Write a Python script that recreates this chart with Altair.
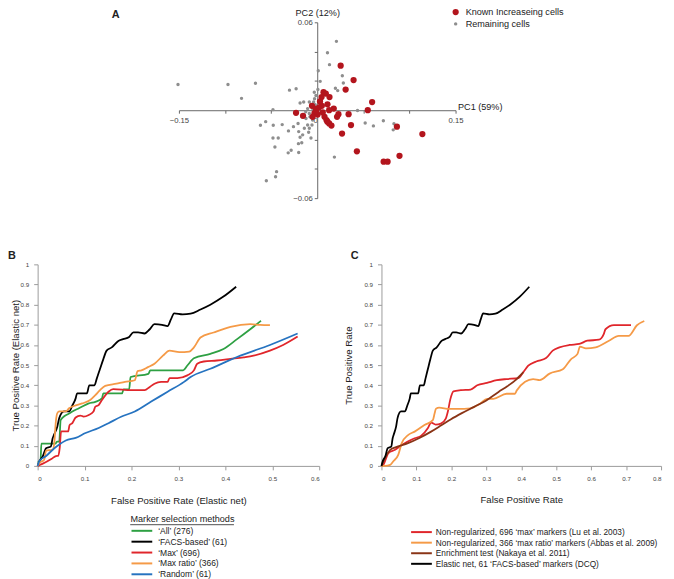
import altair as alt
import pandas as pd

W, H = 666, 571
FONT = "Liberation Sans"

# ---------------- Panel A: PCA scatter ----------------
A_GROUPS = ["Known Increaseing cells", "Remaining cells"]
A_COLORS = ["#b3151d", "#8e8e8e"]

known_pc1 = [0.0254, 0.0394, 0.0308, 0.0595, 0.0548, 0.0068, 0.0093, 0.0047, 0.0133, 0.0111,
             0.0179, 0.005, -0.0057, -0.0014, 0.002, -0.003, 0.0004, -0.005, -0.023, -0.0154,
             0.023, 0.0215, 0.034, 0.0129, 0.0079, 0.010, 0.011, 0.0129, 0.0154, 0.0366,
             0.0269, 0.043, 0.072, 0.0763, 0.0892, 0.0864, 0.114, 0.003, -0.001, 0.006]
known_pc2 = [0.0304, 0.0206, 0.0141, 0.0056, 0.000, 0.0123, 0.0114, 0.0090, 0.0090, 0.0040,
             0.0011, 0.003, 0.003, 0.001, 0.002, -0.002, -0.003, -0.0045, -0.0018, -0.0038,
             -0.0027, -0.0045, -0.0027, 0.000, -0.0045, -0.0067, -0.0078, -0.009, -0.0105, -0.0101,
             -0.0159, -0.028, -0.0351, -0.0351, -0.0311, -0.0112, -0.0163, 0.006, -0.001, -0.0015]

rest_pc1 = [0.0208, 0.0111, 0.0133, 0.0272, 0.0283, 0.0011, 0.0032, -0.151, -0.0968, -0.067,
            -0.0821, -0.0301, -0.0229, 0.0197, 0.0222, -0.048, -0.0186, -0.0147, -0.0086, -0.0068,
            -0.0104, -0.0125, 0.0437, 0.052, 0.0609, 0.0717, 0.0832, 0.0824, 0.0186, -0.0616,
            -0.0559, -0.0477, -0.038, -0.0423, -0.048, -0.0459, -0.0312, -0.0258, -0.0208, -0.0168,
            -0.0201, -0.0158, -0.0186, -0.0204, -0.0168, -0.0315, -0.0283, -0.0201, -0.0104, -0.0093,
            -0.0068, -0.0086, -0.0441, -0.0452, -0.0552, -0.0057, -0.005, -0.0029, -0.0014, -0.0032,
            0.0007, -0.005, -0.0086, -0.0079, -0.0122, -0.014, -0.0039, -0.0022]
rest_pc2 = [0.0470, 0.0392, 0.0311, 0.0235, 0.0186, 0.0269, 0.0197, 0.0175, 0.0175, 0.0184,
            0.0081, 0.0137, 0.0146, 0.0150, 0.0134, 0.0004, 0.0049, 0.0056, 0.0056, 0.0034,
            0.0011, -0.0011, -0.0002, -0.0087, -0.0107, -0.0072, -0.0092, -0.0134, -0.0320, -0.0103,
            -0.0078, -0.0103, -0.0098, -0.019, -0.019, -0.0251, -0.0141, -0.0112, -0.009, -0.0045,
            -0.0146, -0.0168, -0.0184, -0.0228, -0.0222, -0.0291, -0.0273, -0.0289, -0.0101, -0.0150,
            -0.0190, -0.0123, -0.0419, -0.0454, -0.0481, -0.0101, -0.0067, 0.0078, 0.0101, 0.0123,
            0.0141, 0.0011, -0.0022, -0.0045, -0.0056, -0.0123, 0.0056, 0.0038]

A_XTICKS = [-0.15, -0.1, -0.05, 0, 0.05, 0.1, 0.15]
A_YTICKS = [-0.06, -0.04, -0.02, 0, 0.02, 0.04, 0.06]

# ---------------- Panel B: ROC curves (elastic net) ----------------
B_NAMES = ["\u2018All\u2019 (276)", "\u2018FACS-based\u2019 (61)", "\u2018Max\u2019 (696)",
           "\u2018Max ratio\u2019 (366)", "\u2018Random\u2019 (61)"]
B_COLORS = ["#2ea043", "#000000", "#e0262b", "#f59a47", "#2673c0"]

facs_fpr = [0, 0.004, 0.011, 0.018, 0.028, 0.032, 0.035, 0.042, 0.046, 0.056,
            0.067, 0.074, 0.081, 0.084, 0.105, 0.110, 0.121, 0.126, 0.133, 0.140,
            0.147, 0.158, 0.172, 0.182, 0.195, 0.204, 0.214, 0.228, 0.239, 0.249,
            0.265, 0.277, 0.284, 0.291, 0.309, 0.326, 0.347, 0.368, 0.396, 0.423]
facs_tpr = [0, 0.025, 0.048, 0.088, 0.096, 0.137, 0.155, 0.196, 0.237, 0.27,
            0.27, 0.30, 0.335, 0.36, 0.36, 0.40, 0.40, 0.433, 0.482, 0.53,
            0.572, 0.588, 0.62, 0.629, 0.64, 0.662, 0.662, 0.657, 0.678, 0.703,
            0.70, 0.694, 0.727, 0.757, 0.752, 0.755, 0.776, 0.80, 0.84, 0.889]

all_fpr = [0, 0.006, 0.008, 0.038, 0.041, 0.046, 0.049, 0.056, 0.067, 0.074,
           0.088, 0.109, 0.123, 0.137, 0.140, 0.180, 0.183, 0.195, 0.198, 0.236,
           0.240, 0.310, 0.319, 0.333, 0.368, 0.396, 0.425, 0.453, 0.476]
all_tpr = [0.02, 0.02, 0.11, 0.11, 0.12, 0.12, 0.227, 0.245, 0.26, 0.27,
           0.286, 0.31, 0.318, 0.335, 0.36, 0.36, 0.38, 0.38, 0.441, 0.457,
           0.474, 0.474, 0.498, 0.534, 0.556, 0.58, 0.629, 0.678, 0.72]

maxratio_fpr = [0, 0.004, 0.014, 0.018, 0.032, 0.035, 0.039, 0.042, 0.046, 0.060,
                0.067, 0.077, 0.095, 0.112, 0.123, 0.133, 0.144, 0.168, 0.186, 0.207,
                0.213, 0.221, 0.235, 0.249, 0.267, 0.281, 0.302, 0.323, 0.333, 0.347,
                0.375, 0.411, 0.453, 0.474, 0.495]
maxratio_tpr = [0, 0.015, 0.031, 0.076, 0.08, 0.104, 0.225, 0.262, 0.27, 0.27,
                0.286, 0.297, 0.31, 0.327, 0.351, 0.376, 0.397, 0.408, 0.417, 0.425,
                0.47, 0.474, 0.49, 0.507, 0.547, 0.572, 0.564, 0.567, 0.588, 0.637,
                0.662, 0.69, 0.703, 0.70, 0.698]

max_fpr = [0, 0.01, 0.03, 0.039, 0.044, 0.047, 0.050, 0.065, 0.068, 0.074,
           0.081, 0.091, 0.098, 0.109, 0.119, 0.123, 0.130, 0.137, 0.151, 0.161,
           0.200, 0.228, 0.239, 0.249, 0.263, 0.277, 0.281, 0.298, 0.319, 0.333,
           0.340, 0.354, 0.382, 0.411, 0.439, 0.46, 0.495, 0.523, 0.554]
max_tpr = [0, 0.01, 0.035, 0.049, 0.05, 0.088, 0.171, 0.171, 0.202, 0.212,
           0.24, 0.25, 0.245, 0.253, 0.27, 0.294, 0.302, 0.327, 0.368, 0.381,
           0.376, 0.376, 0.392, 0.408, 0.417, 0.417, 0.436, 0.436, 0.449, 0.474,
           0.507, 0.518, 0.523, 0.531, 0.539, 0.547, 0.572, 0.60, 0.642]

random_fpr = [0, 0.004, 0.018, 0.032, 0.046, 0.060, 0.081, 0.102, 0.130, 0.151,
              0.179, 0.207, 0.242, 0.277, 0.312, 0.326, 0.368, 0.432, 0.495, 0.554]
random_tpr = [0, 0.025, 0.049, 0.08, 0.106, 0.126, 0.139, 0.163, 0.188, 0.212,
              0.245, 0.27, 0.319, 0.368, 0.417, 0.441, 0.482, 0.547, 0.60, 0.657]

# ---------------- Panel C: ROC curves (methods) ----------------
C_NAMES = ["Non-regularized, 696 \u2018max\u2019 markers (Lu et al. 2003)",
           "Non-regularized, 366 \u2018max ratio\u2019 markers (Abbas et al. 2009)",
           "Enrichment test (Nakaya et al. 2011)",
           "Elastic net, 61 \u2018FACS-based\u2019 markers (DCQ)"]
C_COLORS = ["#e0262b", "#f59a47", "#8a3416", "#000000"]

lu_fpr = [0, 0.005, 0.02, 0.039, 0.058, 0.095, 0.114, 0.133, 0.142, 0.155,
          0.17, 0.184, 0.19, 0.197, 0.206, 0.227, 0.255, 0.274, 0.302, 0.33,
          0.358, 0.392, 0.406, 0.42, 0.443, 0.471, 0.49, 0.509, 0.538, 0.566,
          0.589, 0.622, 0.636, 0.641, 0.665, 0.714]
lu_tpr = [0, 0.005, 0.064, 0.08, 0.104, 0.137, 0.15, 0.188, 0.215, 0.205,
          0.21, 0.235, 0.27, 0.33, 0.37, 0.376, 0.379, 0.40, 0.412, 0.425,
          0.431, 0.436, 0.465, 0.497, 0.518, 0.535, 0.572, 0.588, 0.60, 0.605,
          0.621, 0.626, 0.654, 0.678, 0.698, 0.698]

abbas_fpr = [0, 0.01, 0.025, 0.034, 0.048, 0.058, 0.076, 0.095, 0.123, 0.147,
             0.152, 0.156, 0.165, 0.194, 0.218, 0.255, 0.283, 0.302, 0.32, 0.358,
             0.382, 0.387, 0.411, 0.434, 0.453, 0.481, 0.519, 0.542, 0.561, 0.568,
             0.585, 0.613, 0.651, 0.679, 0.707, 0.731, 0.752]
abbas_tpr = [0, 0, 0.005, 0.023, 0.055, 0.113, 0.153, 0.17, 0.203, 0.227,
             0.26, 0.284, 0.289, 0.283, 0.283, 0.286, 0.31, 0.333, 0.333, 0.358,
             0.358, 0.374, 0.417, 0.431, 0.426, 0.458, 0.48, 0.529, 0.556, 0.592,
             0.583, 0.588, 0.621, 0.645, 0.645, 0.698, 0.719]

nakaya_fpr = [0, 0.015, 0.025, 0.04, 0.076, 0.11, 0.142, 0.17, 0.199, 0.23,
              0.265, 0.3, 0.335, 0.36, 0.387, 0.406]
nakaya_tpr = [0, 0.055, 0.08, 0.092, 0.113, 0.14, 0.17, 0.2, 0.232, 0.262,
              0.293, 0.325, 0.367, 0.395, 0.431, 0.465]

ROC_YTICKS = [0, 0.1, 0.2, 0.3, 0.4, 0.5, 0.6, 0.7, 0.8, 0.9, 1]
B_XTICKS = [0, 0.1, 0.2, 0.3, 0.4, 0.5, 0.6]
C_XTICKS = [0, 0.1, 0.2, 0.3, 0.4, 0.5, 0.6, 0.7, 0.8]


def series(name, xs, ys):
    assert len(xs) == len(ys), name
    return pd.DataFrame({"method": [name] * len(xs), "fpr": xs, "tpr": ys})


df_a = pd.DataFrame({
    "pc1": rest_pc1 + known_pc1,
    "pc2": rest_pc2 + known_pc2,
    "group": [A_GROUPS[1]] * len(rest_pc1) + [A_GROUPS[0]] * len(known_pc1),
})
assert len(rest_pc1) == len(rest_pc2) and len(known_pc1) == len(known_pc2)

df_b = pd.concat([
    series(B_NAMES[0], all_fpr, all_tpr),
    series(B_NAMES[1], facs_fpr, facs_tpr),
    series(B_NAMES[2], max_fpr, max_tpr),
    series(B_NAMES[3], maxratio_fpr, maxratio_tpr),
    series(B_NAMES[4], random_fpr, random_tpr),
], ignore_index=True)

df_c = pd.concat([
    series(C_NAMES[0], lu_fpr, lu_tpr),
    series(C_NAMES[1], abbas_fpr, abbas_tpr),
    series(C_NAMES[2], nakaya_fpr, nakaya_tpr),
    series(C_NAMES[3], facs_fpr, facs_tpr),
], ignore_index=True)


def axis(**kw):
    base = dict(grid=False, labelFont=FONT, titleFont=FONT, titleFontWeight="normal",
                labelColor="#444", titleColor="#222", domainColor="#9a9a9a", tickColor="#9a9a9a")
    base.update(kw)
    return alt.Axis(**base)


# ---- Panel A chart ----
a_legend = alt.Legend(orient="none", legendX=448.5, legendY=-4, title=None, padding=0,
                      labelFont=FONT, labelFontSize=9.2, labelColor="#222",
                      labelOffset=5.5, rowPadding=2)
a_chart = alt.Chart(df_a).mark_circle(opacity=1).encode(
    x=alt.X("pc1:Q",
            scale=alt.Scale(domain=[-0.15, 0.15], range=[173, 453], nice=False, zero=False),
            axis=axis(orient="bottom", offset=-(H - 100), values=A_XTICKS, format=".2~f",
                      labelExpr="abs(datum.value) > 0.12 || datum.value == 0 ? datum.label : ''",
                      labelAlign={"condition": {"test": "datum.value == 0", "value": "right"}, "value": "center"},
                      labelFontSize=7.8, labelPadding=3, tickSize=3,
                      domainColor="#666", tickColor="#666",
                      title="PC1 (59%)", titleFontSize=9.2, titleX=455, titleY=-4,
                      titleAlign="left", titleBaseline="middle", titleAngle=0)),
    y=alt.Y("pc2:Q",
            scale=alt.Scale(domain=[-0.06, 0.06], range=[189, 11], nice=False, zero=False),
            axis=axis(orient="left", offset=-313, values=A_YTICKS, format=".2~f",
                      labelExpr="abs(datum.value) > 0.05 ? datum.label : ''",
                      labelFontSize=7.8, labelPadding=2, tickSize=3,
                      domainColor="#666", tickColor="#666",
                      title="PC2 (12%)", titleFontSize=9.2, titleX=0, titleY=1,
                      titleAlign="center", titleBaseline="middle", titleAngle=0)),
    color=alt.Color("group:N", scale=alt.Scale(domain=A_GROUPS, range=A_COLORS), legend=a_legend),
    size=alt.Size("group:N", scale=alt.Scale(domain=A_GROUPS, range=[40, 12]), legend=a_legend),
)

# ---- Panel B chart ----
b_chart = alt.Chart(df_b).mark_line(strokeWidth=1.8, interpolate="monotone").encode(
    x=alt.X("fpr:Q",
            scale=alt.Scale(domain=[0, 0.6], range=[30, 315], nice=False, zero=False),
            axis=axis(orient="bottom", offset=-(H - 460), values=B_XTICKS, format=".1~f",
                      labelFontSize=6.3, labelPadding=6, tickSize=4,
                      title="False Positive Rate (Elastic net)", titleFontSize=9.7, titlePadding=14)),
    y=alt.Y("tpr:Q",
            scale=alt.Scale(domain=[0, 1], range=[460, 256], nice=False, zero=False),
            axis=axis(orient="left", offset=-30, values=ROC_YTICKS, format=".1~f",
                      labelFontSize=6.3, labelPadding=5, tickSize=4,
                      title="True Positive Rate (Elastic net)", titleFontSize=9.7, titlePadding=0)),
    color=alt.Color("method:N", scale=alt.Scale(domain=B_NAMES, range=B_COLORS),
                    legend=alt.Legend(orient="none", legendX=124, legendY=510, padding=0,
                                      title="Marker selection methods", titleFont=FONT,
                                      titleFontSize=9.2, titleFontWeight="normal", titleColor="#222",
                                      titlePadding=2, labelFont=FONT, labelFontSize=8.6,
                                      labelColor="#222", symbolType="M-3,0H3", symbolSize=49,
                                      symbolStrokeWidth=2, symbolOffset=7, labelOffset=12,
                                      rowPadding=1, labelLimit=300)),
)

# ---- Panel C chart ----
c_chart = alt.Chart(df_c).mark_line(strokeWidth=1.8, interpolate="monotone").encode(
    x=alt.X("fpr:Q",
            scale=alt.Scale(domain=[0, 0.8], range=[378, 661], nice=False, zero=False),
            axis=axis(orient="bottom", offset=-(H - 460), values=C_XTICKS, format=".1~f",
                      labelFontSize=6.3, labelPadding=6, tickSize=4,
                      title="False Positive Rate", titleFontSize=9.7, titlePadding=13)),
    y=alt.Y("tpr:Q",
            scale=alt.Scale(domain=[0, 1], range=[460, 256], nice=False, zero=False),
            axis=axis(orient="left", offset=-378, values=ROC_YTICKS, format=".1~f",
                      labelFontSize=6.3, labelPadding=5, tickSize=4,
                      title="True Positive Rate", titleFontSize=9.7, titlePadding=11)),
    color=alt.Color("method:N", scale=alt.Scale(domain=C_NAMES, range=C_COLORS),
                    legend=alt.Legend(orient="none", legendX=414, legendY=522.5, padding=0,
                                      title=None, labelFont=FONT, labelFontSize=8.4,
                                      labelColor="#222", symbolType="M-3,0H3", symbolSize=49,
                                      symbolStrokeWidth=2, labelOffset=10, rowPadding=1.7,
                                      labelLimit=400)),
)

# ---- panel letters and legend-title underline ----
letters = pd.DataFrame({"t": ["A", "B", "C"], "px": [105, 0, 347], "py": [4, 248, 248]})
letter_layers = [
    alt.Chart(letters.iloc[[i]]).mark_text(font=FONT, fontSize=11, fontWeight="bold",
                                            align="left", baseline="middle", color="#222").encode(
        x=alt.value(float(letters.px[i])), y=alt.value(float(letters.py[i])), text="t:N")
    for i in range(3)
]
underline = alt.Chart(pd.DataFrame({"d": [0]})).mark_rule(color="#222", strokeWidth=0.8).encode(
    x=alt.value(123.7), x2=alt.value(228.7), y=alt.value(519.5))

chart = alt.layer(a_chart, b_chart, c_chart, *letter_layers, underline).resolve_scale(
    x="independent", y="independent", color="independent", size="independent"
).resolve_axis(x="independent", y="independent").properties(
    width=W, height=H, autosize=alt.AutoSizeParams(type="none"), padding=0
).configure_view(strokeWidth=0)

chart.save("out.html", embed_options={"renderer": "svg", "actions": False})
